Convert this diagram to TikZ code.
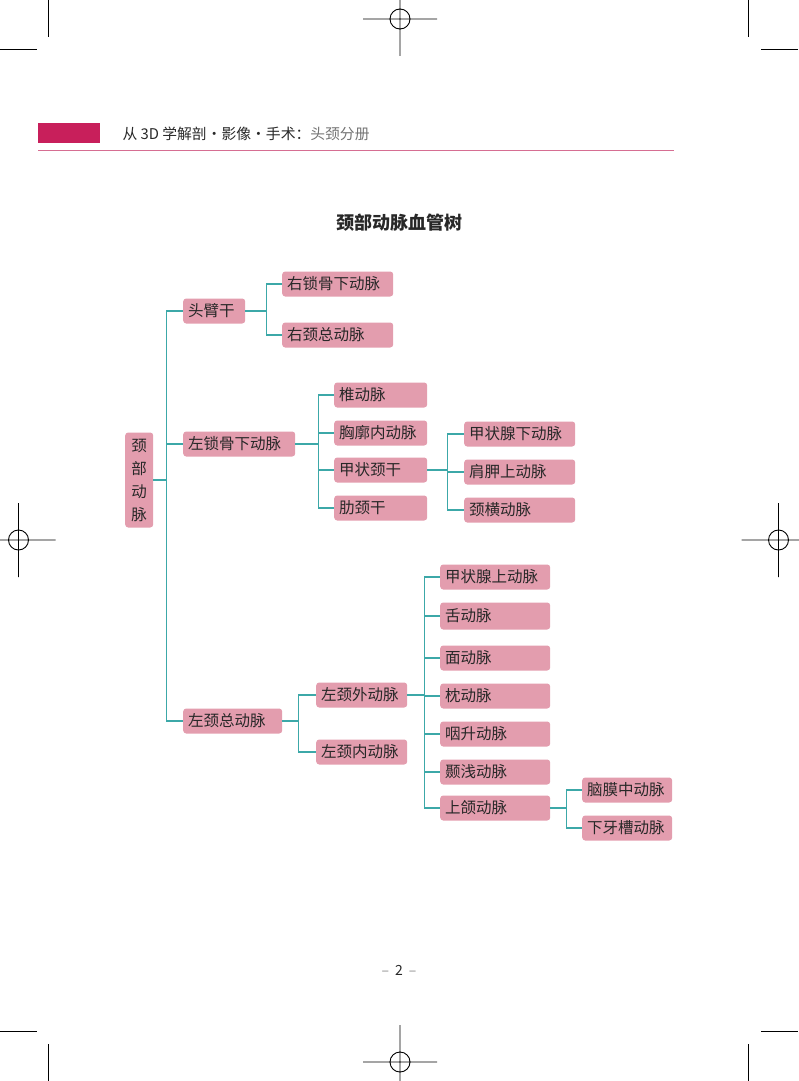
\documentclass[tikz,border=0pt]{standalone}
\usepackage{fontspec}
\newfontfamily\cjk{Noto Sans CJK SC}
\definecolor{vesselpink}{RGB}{227,157,174}
\definecolor{linkteal}{RGB}{60,168,168}
\definecolor{headmagenta}{RGB}{200,31,91}
\definecolor{headline}{RGB}{214,110,146}
\definecolor{textgray}{RGB}{40,40,40}

\begin{document}
\begin{tikzpicture}[
                x=1pt, y=-1pt,
                vessel/.style = {rectangle, rounded corners=3pt, fill=vesselpink, text=textgray, anchor=west, minimum height=25pt, inner xsep=5pt, inner ysep=0pt, text width=#1, align=left, font=\cjk\fontsize{15.5}{18}\selectfont},
                rootbox/.style = {rectangle, rounded corners=3pt, fill=vesselpink, text=textgray, anchor=west, minimum height=95pt, inner xsep=6pt, text width=16pt, align=center, font=\cjk\fontsize{15.5}{23}\selectfont},
                link/.style = {draw=linkteal, line width=1.4pt},
                cropmark/.style = {draw=black, line width=0.9pt}
        ]
        \useasboundingbox (0,0) rectangle (798,1081);

        \draw[cropmark] (48,0) -- (48,37) (748,0) -- (748,37) (0,49) -- (37,49) (761,49) -- (798,49);
        \draw[cropmark] (48,1044) -- (48,1081) (748,1044) -- (748,1081) (0,1031) -- (37,1031) (761,1031) -- (798,1031);
        \foreach \cx/\cy in {400/19, 400/1062, 18.5/540, 778.5/540}
                \draw[cropmark] (\cx-37,\cy) -- (\cx+37,\cy) (\cx,\cy-37) -- (\cx,\cy+37) (\cx,\cy) circle (10pt);

        \fill[headmagenta] (38,123) rectangle (100,143);
        \draw[headline, line width=1pt] (38,150) -- (674,150);
        \node[anchor=west, text=textgray, font=\cjk\fontsize{14.8}{17}\selectfont] (runhead) at (119,134) {从 3D 学解剖•影像•手术：{\color{black!55}头颈分册}};
        \node[text=textgray, font=\cjk\bfseries\fontsize{18}{20}\selectfont] (title) at (399,223) {颈部动脉血管树};
        \node[text=textgray, font=\cjk\fontsize{14}{16}\selectfont] (folio) at (399,970) {{\color{black!45}–}\hspace{6pt}2\hspace{6pt}{\color{black!45}–}};

        \node[rootbox] (neck) at (125,480) {颈\\部\\动\\脉};
        \node[vessel=52pt] (bct) at (183,311) {头臂干};
        \node[vessel=102pt] (lsa) at (183,444) {左锁骨下动脉};
        \node[vessel=89pt] (lcca) at (183,721) {左颈总动脉};

        \node[vessel=101pt] (rsa) at (282,284) {右锁骨下动脉};
        \node[vessel=101pt] (rcca) at (282,335) {右颈总动脉};

        \node[vessel=83pt] (vert) at (334,395) {椎动脉};
        \node[vessel=83pt] (intthor) at (334,433) {胸廓内动脉};
        \node[vessel=83pt] (thyrocerv) at (334,470) {甲状颈干};
        \node[vessel=83pt] (costocerv) at (334,508) {肋颈干};

        \node[vessel=101pt] (infthy) at (464,434) {甲状腺下动脉};
        \node[vessel=101pt] (suprascap) at (464,472) {肩胛上动脉};
        \node[vessel=101pt] (transcerv) at (464,510) {颈横动脉};

        \node[vessel=81pt] (leca) at (316,695) {左颈外动脉};
        \node[vessel=81pt] (lica) at (316,752) {左颈内动脉};

        \node[vessel=100pt] (supthy) at (440,577) {甲状腺上动脉};
        \node[vessel=100pt, minimum height=27pt] (lingual) at (440,616) {舌动脉};
        \node[vessel=100pt] (facial) at (440,658) {面动脉};
        \node[vessel=100pt] (occip) at (440,696) {枕动脉};
        \node[vessel=100pt] (ascphar) at (440,734) {咽升动脉};
        \node[vessel=100pt] (suptemp) at (440,772) {颞浅动脉};
        \node[vessel=100pt] (maxil) at (440,808) {上颌动脉};

        \node[vessel=80pt] (midmen) at (582,790) {脑膜中动脉};
        \node[vessel=80pt] (infalv) at (582,828) {下牙槽动脉};

        \foreach \kid in {bct,lsa,lcca} \draw[link] (neck.east) -- ++(13,0) |- (\kid.west);
        \foreach \kid in {rsa,rcca} \draw[link] (bct.east) -- ++(21,0) |- (\kid.west);
        \foreach \kid in {vert,intthor,thyrocerv,costocerv} \draw[link] (lsa.east) -- ++(23,0) |- (\kid.west);
        \foreach \kid in {infthy,suprascap,transcerv} \draw[link] (thyrocerv.east) -- ++(20,0) |- (\kid.west);
        \foreach \kid in {leca,lica} \draw[link] (lcca.east) -- ++(16,0) |- (\kid.west);
        \foreach \kid in {supthy,lingual,facial,occip,ascphar,suptemp,maxil} \draw[link] (leca.east) -- ++(17,0) |- (\kid.west);
        \foreach \kid in {midmen,infalv} \draw[link] (maxil.east) -- ++(16,0) |- (\kid.west);
\end{tikzpicture}
\end{document}
